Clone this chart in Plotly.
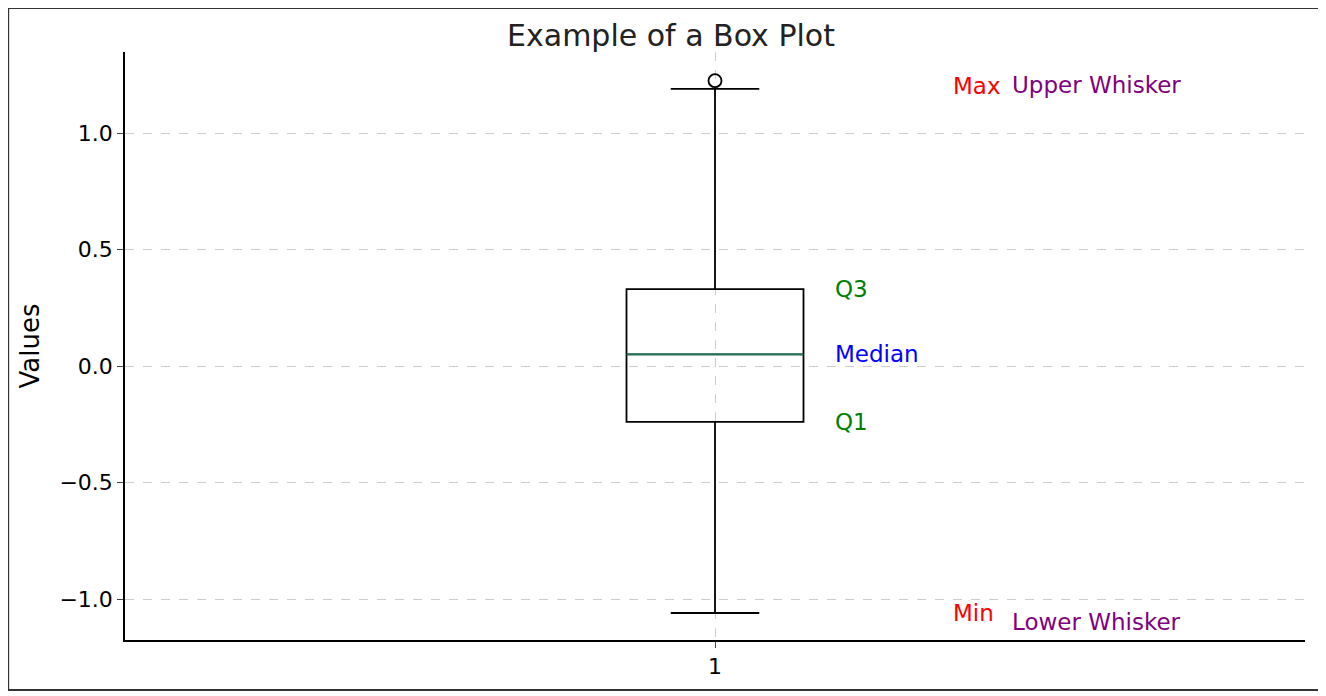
import plotly.graph_objects as go

# box statistics
categories = [1]
q1 = [-0.24]
median = [0.05]
q3 = [0.33]
lower_whisker = [-1.06]
upper_whisker = [1.19]
outliers = [1.225]

labels = ["Q3", "Median", "Q1", "Max", "Upper Whisker", "Min", "Lower Whisker"]
label_x = [1.1, 1.1, 1.1, 1.2, 1.25, 1.2, 1.25]
label_y = [q3[0], median[0], q1[0], 1.2, 1.205, -1.06, -1.1]
label_colors = ["green", "blue", "green", "red", "purple", "red", "purple"]

fig = go.Figure()
fig.add_trace(go.Box(
    x=categories, q1=q1, median=median, q3=q3,
    lowerfence=lower_whisker, upperfence=upper_whisker,
    width=0.15, whiskerwidth=0.5,
    fillcolor="rgba(255,255,255,0)", line=dict(color="black", width=1.8),
    boxpoints=False, hoverinfo="skip",
))
# median line in matplotlib's green
fig.add_trace(go.Scatter(
    x=[categories[0] - 0.075, categories[0] + 0.075], y=[median[0], median[0]],
    mode="lines", line=dict(color="#1f7a5a", width=1.8), hoverinfo="skip",
))
# outlier
fig.add_trace(go.Scatter(
    x=categories * len(outliers), y=outliers, mode="markers",
    marker=dict(symbol="circle-open", size=13, color="black", line=dict(width=1.8)),
))

for t, x, y, c in zip(labels, label_x, label_y, label_colors):
    fig.add_annotation(x=x, y=y, text=t, showarrow=False, xanchor="left",
                       font=dict(color=c, size=23))

fig.add_shape(type="rect", xref="paper", yref="paper",
              x0=-0.099, x1=1.0127, y0=-0.085, y1=1.075,
              line=dict(color="#333", width=2), layer="below")

fig.update_layout(
    title=dict(text="Example of a Box Plot", x=0.5, xanchor="center", y=0.975,
               font=dict(size=30, color="#222")),
    width=1326, height=696, showlegend=False,
    paper_bgcolor="white", plot_bgcolor="white",
    margin=dict(l=117, r=29, t=44, b=64),
    font=dict(family="DejaVu Sans", size=22, color="black"),
)
fig.update_xaxes(range=[0.5, 1.5], tickvals=categories, showline=True, linecolor="black",
                 linewidth=1.5, ticks="outside", ticklen=6, zeroline=False,
                 showgrid=True, gridcolor="#ccc", griddash="dash")
fig.update_yaxes(range=[-1.176, 1.348], tickvals=[-1.0, -0.5, 0.0, 0.5, 1.0],
                 ticktext=["\u22121.0", "\u22120.5", "0.0", "0.5", "1.0"],
                 showline=True, linecolor="black", linewidth=1.5, ticks="outside",
                 ticklen=6, zeroline=False, showgrid=True, gridcolor="#ccc",
                 griddash="dash", title=dict(text="Values", standoff=12))

fig.write_html("out.html")
